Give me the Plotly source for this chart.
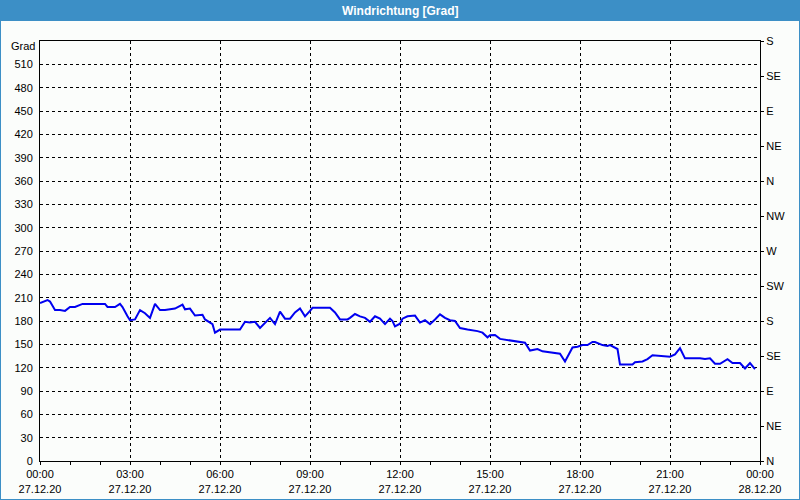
import plotly.graph_objects as go

# ---- data ----
times = ["00:00","00:15","00:20","00:30","00:40","00:50","01:00","01:10","01:25","02:10",
         "02:15","02:30","02:40","02:45","02:55","03:00","03:10","03:20","03:30","03:40",
         "03:50","04:00","04:10","04:30","04:45","04:50","05:00","05:10","05:25","05:30",
         "05:45","05:50","06:00","06:40","06:50","07:00","07:10","07:20","07:40","07:50",
         "08:00","08:10","08:20","08:30","08:40","08:50","09:00","09:05","09:40","09:50",
         "10:00","10:15","10:20","10:30","10:40","10:50","11:00","11:10","11:20","11:30",
         "11:40","11:45","11:50","12:00","12:05","12:15","12:30","12:40","12:50","13:00",
         "13:10","13:20","13:30","13:40","13:50","14:00","14:15","14:35","14:45","14:55",
         "15:00","15:10","15:20","15:55","16:10","16:20","16:35","16:45","17:00","17:20",
         "17:30","17:45","17:55","18:05","18:15","18:25","18:30","18:45","18:55","19:00",
         "19:15","19:20","19:45","19:50","20:05","20:15","20:25","20:40","21:00","21:10",
         "21:20","21:30","22:00","22:10","22:20","22:30","22:40","22:55","23:05","23:20",
         "23:30","23:40","23:50"]
values = [203,207,205,194,194,193,198,198,202,202,
          198,198,202,198,186,181,182,194,190,184,
          202,194,194,196,201,195,196,187,188,182,
          176,165,169,169,179,178,179,171,184,176,
          192,183,183,191,196,186,193,197,197,191,
          182,182,184,189,186,184,179,186,183,176,
          183,180,173,176.5,183,186,187,178,181,176,
          182,188.5,184,181,180,171,169,167,165,159,
          161.6,162,157,154,152,142,144,141,140,138,
          128,146,147,149,149,153,153,149,148,149,
          144,124,124,127,128,131,136,135,134,137,
          145,132,132,131,132,125,125,131,126,126,
          119,126,118]

date = "2020-12-27"
x_vals = [f"{date} {t}" for t in times]

y_ticks = list(range(0, 511, 30))
dir_vals = list(range(0, 541, 45))
dir_labels = ["N","NE","E","SE","S","SW","W","NW","N","NE","E","SE","S"]
x_tick_vals = ["2020-12-27 00:00","2020-12-27 03:00","2020-12-27 06:00","2020-12-27 09:00",
               "2020-12-27 12:00","2020-12-27 15:00","2020-12-27 18:00","2020-12-27 21:00",
               "2020-12-28 00:00"]
x_tick_text = ["00:00<br>27.12.20","03:00<br>27.12.20","06:00<br>27.12.20","09:00<br>27.12.20",
               "12:00<br>27.12.20","15:00<br>27.12.20","18:00<br>27.12.20","21:00<br>27.12.20",
               "00:00<br>28.12.20"]

# ---- layout geometry (pixels) ----
W, H = 800, 500
L, R, T, B = 40, 760, 41, 461

def px(x):
    return (x - L) / (R - L)

def py(y):
    return (B - y) / (B - T)

bg = "#fbfdfb"
font = dict(family="Liberation Sans, Arial, sans-serif", size=11, color="#000000")

fig = go.Figure()
fig.add_trace(go.Scatter(x=x_vals, y=values, mode="lines",
                         line=dict(color="#0000f0", width=2), showlegend=False,
                         hoverinfo="skip"))
# invisible trace for the right axis
fig.add_trace(go.Scatter(x=[x_vals[0]], y=[values[0]], yaxis="y2", mode="markers",
                         marker=dict(opacity=0), showlegend=False, hoverinfo="skip"))

fig.update_layout(
    width=W, height=H,
    margin=dict(l=L, r=W - R, t=T, b=H - B, pad=0),
    paper_bgcolor=bg, plot_bgcolor=bg,
    font=font,
    xaxis=dict(type="date", range=["2020-12-27 00:00", "2020-12-28 00:00"],
               tickmode="array", tickvals=x_tick_vals, ticktext=x_tick_text,
               ticks="outside", ticklen=3, tickcolor="#000000",
               showline=True, linecolor="#000000", linewidth=1, mirror=True,
               showgrid=True, gridcolor="#000000", griddash="3px,3px", gridwidth=1,
               minor=dict(ticks="outside", ticklen=3, tickcolor="#000000",
                          dtick=3600000, tick0="2020-12-27", showgrid=False),
               zeroline=False, fixedrange=True, automargin=False),
    yaxis=dict(range=[0, 540], tickmode="array", tickvals=y_ticks,
               ticks="outside", ticklen=4, tickcolor=bg,
               showline=True, linecolor="#000000", linewidth=1, mirror=True,
               showgrid=True, gridcolor="#000000", griddash="3px,3px", gridwidth=1,
               zeroline=False, fixedrange=True, automargin=False),
    yaxis2=dict(range=[0, 540], overlaying="y", side="right",
                tickmode="array", tickvals=dir_vals, ticktext=dir_labels,
                ticks="outside", ticklen=3, tickcolor="#000000",
                showline=False, showgrid=False, zeroline=False, fixedrange=True,
                automargin=False),
    shapes=[
        dict(type="rect", xref="paper", yref="paper",
             x0=px(0), x1=px(W), y0=py(21), y1=py(0),
             fillcolor="#3c8fc6", line=dict(width=0), layer="above"),
        dict(type="rect", xref="paper", yref="paper",
             x0=px(0), x1=px(W), y0=py(H), y1=py(0),
             fillcolor="rgba(0,0,0,0)", line=dict(color="#3c8fc6", width=2), layer="above"),
    ],
    annotations=[
        dict(text="<b>Windrichtung [Grad]</b>", xref="paper", yref="paper",
             x=px(W / 2), y=py(10.5), xanchor="center", yanchor="middle",
             showarrow=False, font=dict(family="Liberation Sans, Arial, sans-serif",
                                        size=12, color="#ffffff")),
        dict(text="Grad", xref="paper", yref="paper",
             x=px(37), y=py(46), xanchor="right", yanchor="middle",
             showarrow=False, font=font),
    ],
)

fig.write_html("out.html")
